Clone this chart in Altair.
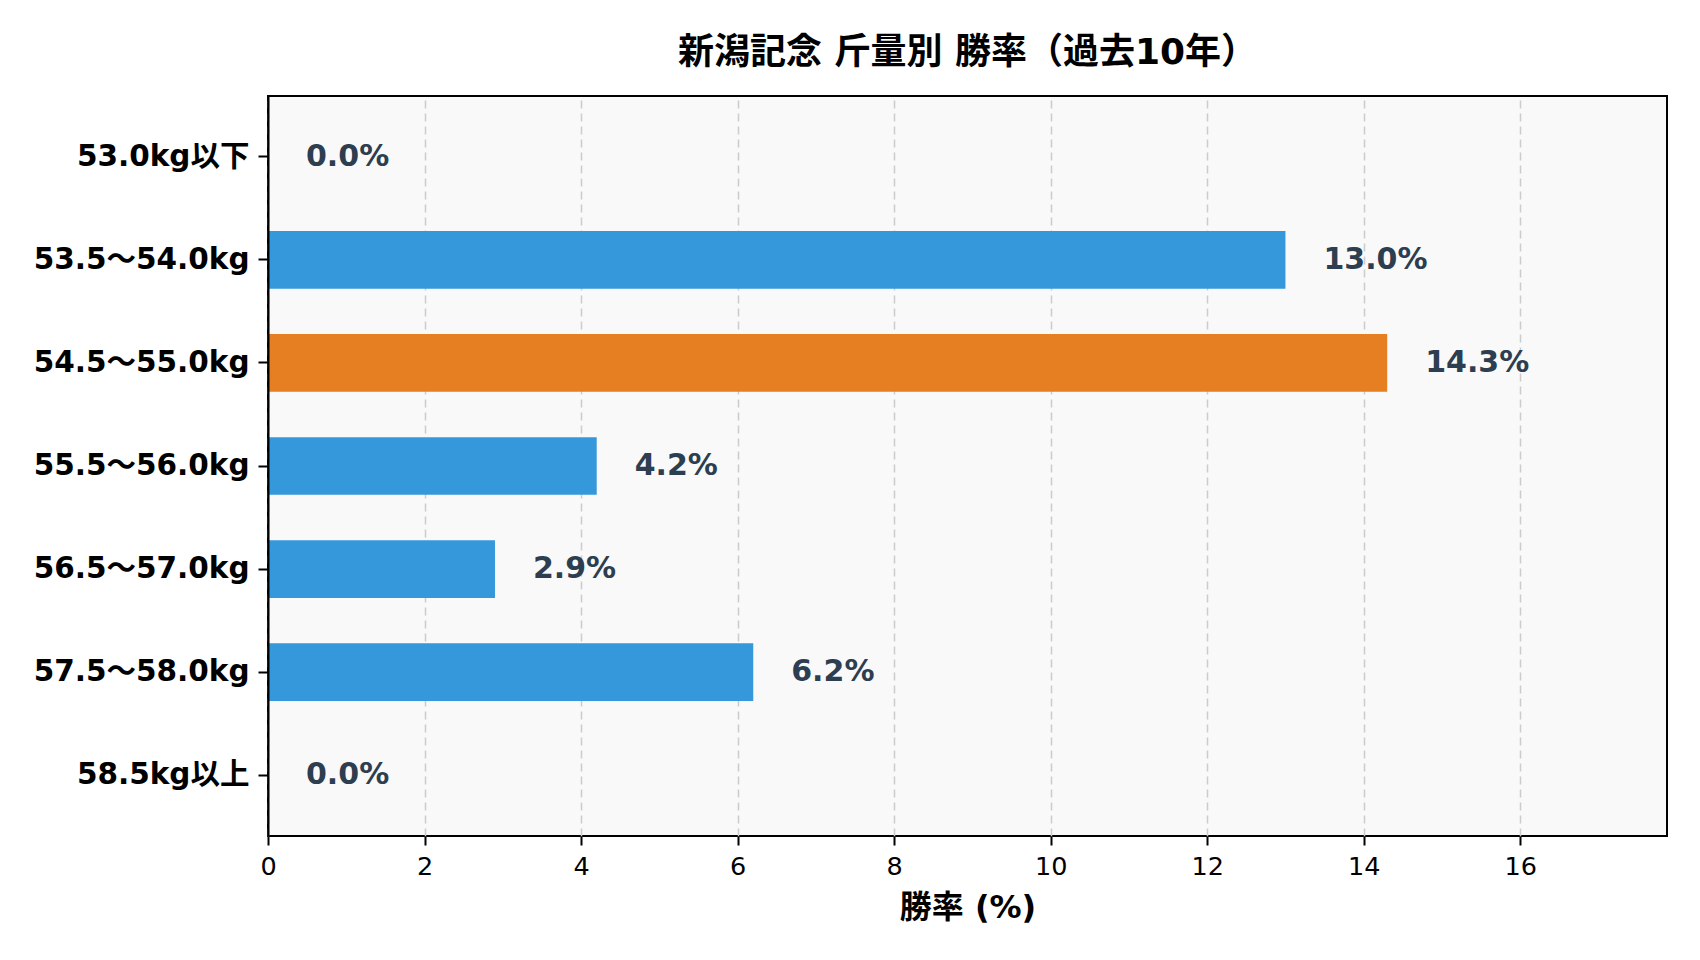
import pandas as pd
import altair as alt

# data
categories = ['53.0kg以下', '53.5〜54.0kg', '54.5〜55.0kg', '55.5〜56.0kg',
              '56.5〜57.0kg', '57.5〜58.0kg', '58.5kg以上']
win_rate = [0.0, 13.0, 14.3, 4.2, 2.9, 6.2, 0.0]
x_ticks = [0, 2, 4, 6, 8, 10, 12, 14, 16]

FONT = 'DejaVu Sans, Noto Sans CJK JP'


def build_df():
    df = pd.DataFrame({'cat': categories, 'rate': win_rate})
    df['label'] = df['rate'].map(lambda v: f'{v:.1f}%')
    top = df['rate'].max()
    df['hl'] = df['rate'].map(lambda v: 'max' if v == top else 'other')
    return df


def draw(df):
    xmax = df['rate'].max() * 1.25
    base = alt.Chart(df).encode(
        alt.Y('cat:N', sort=categories, title=None,
              scale=alt.Scale(paddingInner=0.44, paddingOuter=0.31),
              axis=alt.Axis(labelFont=FONT, labelFontSize=29.5, labelFontWeight='bold',
                            labelColor='#000000', labelPadding=9, labelLimit=0,
                            tickColor='#000000', tickSize=10, tickWidth=2,
                            domain=True, domainColor='#000000', domainWidth=2,
                            grid=False, zindex=1)),
    )

    bars = base.mark_bar().encode(
        alt.X('rate:Q', title='勝率 (%)',
              scale=alt.Scale(domain=[0, xmax], nice=False),
              axis=alt.Axis(values=x_ticks, format='d', labelFlush=False,
                            labelFont=FONT, labelFontSize=25.5,
                            labelColor='#000000', labelPadding=9,
                            tickColor='#000000', tickSize=9, tickWidth=2,
                            titleFont=FONT, titleFontSize=32, titleFontWeight='bold',
                            titleColor='#000000', titlePadding=13,
                            domain=False,
                            grid=True, gridColor='#cccccc', gridDash=[8, 5],
                            gridWidth=1.5)),
        color=alt.Color('hl:N', legend=None,
                        scale=alt.Scale(domain=['max', 'other'],
                                        range=['#e67e22', '#3498db'])),
    )

    text = base.mark_text(align='left', baseline='middle', dx=38,
                          font=FONT, fontSize=30, fontWeight='bold',
                          color='#2c3e50').encode(
        alt.X('rate:Q'),
        text='label:N',
    )

    chart = alt.layer(bars, text).properties(
        width=1399, height=740,
        padding={'left': 260, 'top': 88, 'right': 10, 'bottom': 100},
        autosize=alt.AutoSizeParams(type='none'),
        title=alt.TitleParams('新潟記念 斤量別 勝率（過去10年）', font=FONT,
                              fontSize=36, fontWeight='bold', color='#000000',
                              anchor='middle', offset=24),
        background='#ffffff',
    ).configure_view(
        fill='#f9f9f9', stroke='#000000', strokeWidth=2,
    )
    return chart


def main():
    df = build_df()
    chart = draw(df)
    chart.save('out.html', embed_options={'renderer': 'svg', 'actions': False})


if __name__ == '__main__':
    main()
